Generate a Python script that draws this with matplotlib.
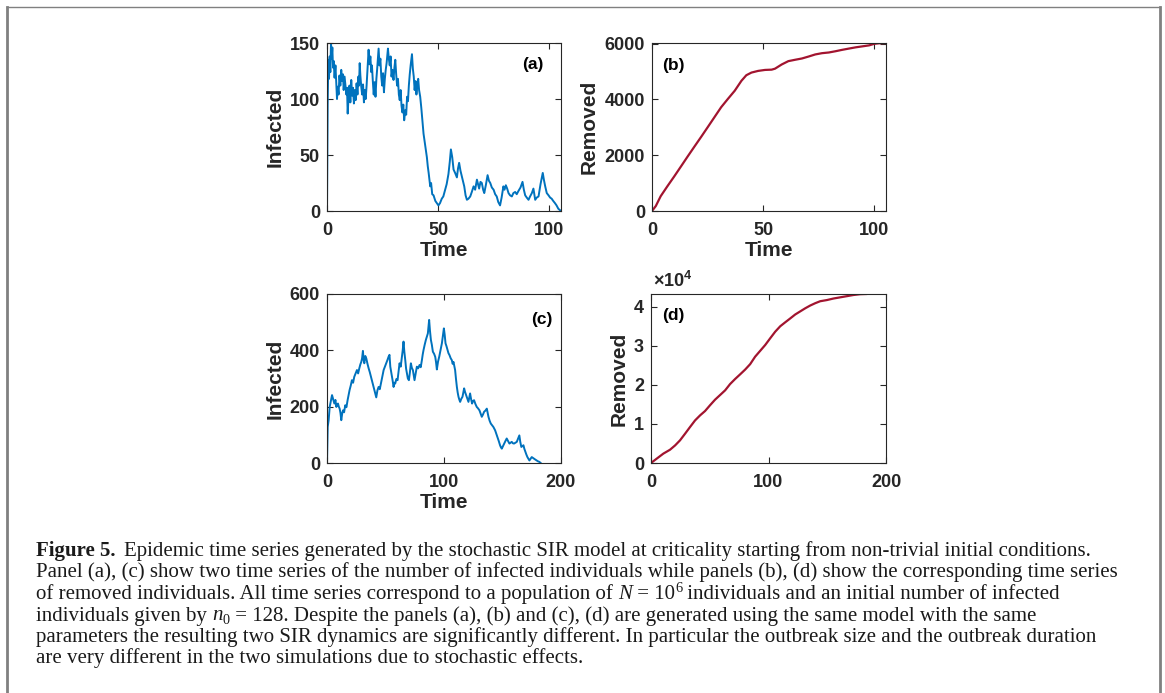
import numpy as np
import matplotlib
matplotlib.use('Agg')
import matplotlib.pyplot as plt
from matplotlib.lines import Line2D
from matplotlib.ticker import FuncFormatter

plt.rcParams['font.family'] = ['Liberation Sans', 'DejaVu Sans']
plt.rcParams['axes.labelweight'] = 'bold'
plt.rcParams['mathtext.fontset'] = 'custom'
plt.rcParams['mathtext.rm'] = 'Liberation Sans:bold'
plt.rcParams['mathtext.it'] = 'Liberation Sans:bold'
plt.rcParams['mathtext.bf'] = 'Liberation Sans:bold'

AX_COL = '#262626'
BLUE = '#0072BD'
RED = '#A2142F'
FRAME = '#808080'
TXT = '#1a1a1a'

# (a) infected, first run
t_a = [0, 0.3, 0.6, 0.9, 1.2, 1.5, 1.8, 2.1, 2.4, 2.7,
       3.0, 3.4, 3.8, 4.2, 4.5, 4.8, 5.2, 5.6, 6.0, 6.4,
       6.8, 7.2, 7.5, 7.9, 8.3, 8.7, 9.0, 9.3, 9.7, 10.1,
       10.5, 10.9, 11.3, 11.7, 12.1, 12.5, 12.9, 13.3, 13.7, 14.1,
       14.4, 14.7, 15.0, 15.4, 15.8, 16.2, 16.6, 17.0, 17.4, 17.8,
       18.2, 18.7, 19.1, 19.5, 19.9, 20.2, 20.6, 21.0, 21.4, 21.8,
       22.2, 22.6, 23.2, 23.6, 24.0, 24.4, 24.8, 25.2, 25.6, 26.0,
       26.4, 26.8, 27.4, 27.8, 28.2, 28.6, 29.0, 29.4, 29.9, 30.3,
       30.7, 31.1, 31.5, 31.9, 32.3, 32.7, 33.1, 33.5, 33.9, 34.3,
       34.7, 35.2, 35.6, 36.0, 36.4, 36.8, 37.2, 37.6, 38.2, 38.6,
       39.0, 39.4, 39.8, 40.2, 40.6, 41.0, 41.4, 41.9, 42.4, 42.9,
       43.4, 43.9, 44.4, 44.9, 45.3, 45.7, 46.1, 46.4, 46.8, 47.3,
       47.9, 48.7, 49.4, 50.1, 50.8, 51.6, 52.3, 53.1, 53.8, 54.6,
       55.2, 55.7, 56.3, 56.9, 57.6, 58.4, 58.9, 59.4, 60.0, 60.6,
       61.2, 61.7, 62.3, 62.9, 63.6, 64.4, 65.1, 65.9, 66.6, 67.4,
       67.9, 68.4, 69.0, 69.6, 70.2, 70.7, 71.4, 72.2, 72.8, 73.4,
       74.1, 74.9, 75.6, 76.3, 77.0, 77.8, 78.5, 79.3, 79.8, 80.4,
       81.0, 81.6, 82.3, 83.1, 83.8, 84.6, 85.3, 86.1, 87.0, 87.9,
       88.5, 89.1, 89.8, 90.6, 91.3, 92.1, 92.8, 93.6, 94.3, 95.1,
       96.0, 97.0, 97.5, 98.1, 98.8, 99.6, 100.3, 101.0, 101.7, 102.5,
       103.2, 104.0, 104.6, 105.2]
infected_a = [0, 95, 135, 118, 138, 124, 150, 136, 146, 128,
              134, 119, 130, 112, 100, 111, 104, 121, 112, 126,
              116, 122, 108, 120, 112, 104, 110, 87, 102, 112,
              97, 117, 103, 110, 96, 108, 99, 114, 104, 120,
              112, 132, 121, 111, 104, 113, 97, 108, 100, 112,
              126, 144, 131, 138, 124, 130, 116, 104, 115, 102,
              118, 128, 145, 130, 136, 120, 112, 123, 106, 118,
              126, 132, 145, 136, 130, 138, 120, 126, 117, 128,
              135, 122, 112, 118, 104, 99, 108, 94, 88, 95,
              81, 90, 86, 102, 98, 112, 122, 130, 140, 127,
              120, 108, 116, 104, 112, 118, 108, 102, 92, 80,
              69, 62, 55, 48, 40, 34, 27, 22, 25, 15,
              14, 9, 7, 5, 7, 11, 13, 19, 24, 33,
              44, 55, 48, 37, 34, 30, 38, 43, 36, 31,
              26, 22, 14, 10, 11, 13, 17, 22, 19, 28,
              24, 20, 26, 25, 19, 16, 23, 32, 27, 25,
              21, 19, 15, 13, 8, 5, 12, 22, 19, 23,
              20, 16, 14, 13, 16, 17, 15, 18, 21, 26,
              19, 14, 12, 10, 13, 16, 20, 10, 12, 13,
              24, 34, 28, 22, 16, 14, 12, 11, 9, 7,
              5, 2, 1, 0]

# (b) removed, first run
t_b = [0, 1.7, 3.9, 6.9, 10.0, 13.0, 16.0, 19.0, 22.1, 25.1,
       28.1, 31.1, 34.1, 37.2, 40.2, 42.4, 44.7, 47.7, 50.8, 53.8,
       55.3, 58.3, 61.3, 64.4, 67.4, 70.4, 73.4, 76.4, 79.5, 82.5,
       85.5, 88.5, 91.6, 94.6, 97.6, 99.9, 102.1, 105.2]
removed_b = [0, 177, 530, 885, 1240, 1594, 1950, 2300, 2657, 3010,
             3365, 3720, 4015, 4310, 4665, 4865, 4960, 5020, 5055, 5065,
             5100, 5250, 5370, 5420, 5465, 5535, 5610, 5655, 5680, 5725,
             5775, 5820, 5865, 5900, 5935, 5990, 6010, 6020]

# (c) infected, second run
t_c = [0.0, 0.6, 1.4, 2.3, 3.4, 4.3, 5.1, 6.3, 7.2, 8.0,
       8.7, 9.4, 10.1, 10.8, 11.5, 12.2, 13.0, 13.7, 14.6, 15.6,
       16.6, 17.6, 18.4, 19.3, 20.3, 21.3, 22.3, 23.3, 24.4, 25.6,
       26.6, 27.6, 28.5, 29.3, 30.0, 30.7, 31.3, 31.9, 32.7, 33.6,
       34.6, 35.6, 36.6, 37.6, 38.7, 39.8, 40.9, 42.1, 43.1, 44.1,
       45.1, 46.1, 47.2, 48.4, 49.5, 50.6, 51.6, 52.6, 53.4, 54.1,
       54.8, 55.5, 56.2, 56.9, 57.6, 58.3, 59.3, 60.3, 61.1, 62.0,
       63.0, 64.0, 64.7, 65.4, 66.1, 66.9, 67.6, 68.3, 69.1, 70.0,
       70.8, 71.7, 72.5, 73.4, 74.1, 74.8, 75.8, 76.8, 77.9, 79.1,
       80.1, 81.1, 81.8, 82.5, 83.5, 84.5, 85.3, 86.2, 86.8, 87.3,
       88.0, 88.8, 89.6, 90.5, 91.5, 92.5, 93.2, 93.9, 94.9, 95.9,
       97.0, 98.2, 99.0, 99.9, 100.6, 101.3, 102.1, 103.0, 103.8, 104.7,
       105.7, 106.7, 107.4, 108.1, 108.8, 109.5, 110.2, 111.0, 111.7, 112.4,
       113.1, 113.8, 114.8, 115.8, 116.5, 117.2, 118.0, 118.9, 119.9, 120.9,
       121.6, 122.3, 123.1, 124.0, 124.8, 125.7, 126.8, 128.0, 129.1, 130.3,
       131.3, 132.3, 133.3, 134.3, 135.4, 136.6, 137.3, 138.0, 139.0, 140.0,
       141.1, 142.2, 143.0, 143.7, 144.7, 145.7, 146.8, 147.9, 148.6, 149.4,
       150.4, 151.4, 152.5, 153.6, 154.7, 155.9, 156.9, 157.9, 158.9, 159.9,
       161.0, 162.2, 163.3, 164.4, 165.2, 166.1, 167.0, 167.9, 168.7, 169.6,
       170.4, 171.3, 172.1, 173.0, 174.0, 175.0, 176.0, 177.0, 178.1, 179.2,
       180.3, 181.5, 182.6]
infected_c = [0, 128, 152, 199, 223, 241, 229, 211, 224, 199,
              208, 211, 200, 193, 178, 152, 176, 187, 180, 205,
              198, 223, 240, 259, 275, 294, 285, 306, 318, 330,
              318, 336, 350, 359, 372, 398, 366, 354, 380, 371,
              352, 336, 322, 306, 288, 270, 252, 233, 258, 270,
              262, 282, 305, 330, 342, 354, 365, 377, 384, 342,
              325, 306, 290, 270, 285, 282, 298, 294, 322, 354,
              342, 377, 400, 431, 395, 365, 335, 318, 300, 294,
              320, 354, 338, 330, 312, 294, 318, 342, 336, 348,
              340, 365, 385, 401, 420, 437, 448, 460, 485, 508,
              470, 437, 420, 395, 388, 377, 358, 332, 360, 377,
              400, 425, 450, 478, 455, 425, 415, 401, 390, 383,
              372, 365, 352, 359, 345, 330, 300, 270, 250, 235,
              225, 217, 228, 235, 250, 265, 252, 241, 228, 217,
              232, 247, 228, 211, 220, 223, 210, 199, 194, 187,
              176, 164, 172, 182, 186, 193, 178, 164, 150, 140,
              134, 128, 122, 116, 104, 93, 78, 63, 56, 51,
              60, 69, 78, 87, 78, 69, 72, 75, 70, 69,
              72, 75, 86, 98, 75, 57, 60, 63, 50, 39,
              30, 21, 15, 9, 15, 21, 18, 15, 12, 9,
              6, 4, 0]

# (d) removed, second run
t_d = [0, 4.8, 10.5, 16.2, 20.5, 24.7, 29.0, 33.2, 37.5, 41.8,
       46.0, 50.3, 54.5, 58.8, 63.1, 67.3, 71.6, 75.9, 80.1, 84.4,
       88.6, 92.9, 97.2, 101.4, 105.7, 110.0, 114.2, 118.5, 122.7, 127.0,
       131.3, 135.5, 139.8, 144.0, 149.7, 155.4, 161.1, 166.8, 172.4, 178.1,
       183.0]
removed_d = [0, 1100, 2400, 3400, 4500, 5800, 7500, 9200, 10900, 12200,
             13300, 14800, 16200, 17400, 18600, 20200, 21500, 22700, 23900, 25300,
             27200, 28700, 30200, 31900, 33600, 35000, 36000, 37000, 38000, 38800,
             39600, 40300, 40900, 41400, 41700, 42100, 42400, 42700, 43000, 43200,
             43250]

# caption: each line is a list of (text, style, size factor, raise in px)
caption_lines = [
    [('Epidemic time series generated by the stochastic SIR model at criticality starting from non-trivial initial conditions.', 'normal', 1, 0)],
    [('Panel (a), (c) show two time series of the number of infected individuals while panels (b), (d) show the corresponding time series', 'normal', 1, 0)],
    [('of removed individuals. All time series correspond to a population of ', 'normal', 1, 0),
     ('N', 'italic', 1, 0), (' = 10', 'normal', 1, 0), ('6', 'normal', 0.68, 7),
     (' individuals and an initial number of infected', 'normal', 1, 0)],
    [('individuals given by ', 'normal', 1, 0), ('n', 'italic', 1, 0), ('0', 'normal', 0.68, -3),
     (' = 128. Despite the panels (a), (b) and (c), (d) are generated using the same model with the same', 'normal', 1, 0)],
    [('parameters the resulting two SIR dynamics are significantly different. In particular the outbreak size and the outbreak duration', 'normal', 1, 0)],
    [('are very different in the two simulations due to stochastic effects.', 'normal', 1, 0)],
]

W, H = 1165, 693
fig = plt.figure(figsize=(W / 100, H / 100), dpi=100)


def px_axes(l, t, r, b):
    return fig.add_axes([l / W, 1 - b / H, (r - l) / W, (b - t) / H])


def style(ax, xlim, ylim, xticks, yticks, ylabel, xlabel=True):
    ax.set_xlim(xlim)
    ax.set_ylim(ylim)
    ax.set_xticks(xticks)
    ax.set_yticks(yticks)
    ax.tick_params(direction='in', top=True, right=True, length=4, width=0.8,
                   colors=AX_COL, labelsize=13)
    ax.tick_params(axis='x', pad=8)
    ax.tick_params(axis='y', pad=5)
    for lbl in ax.get_xticklabels() + ax.get_yticklabels():
        lbl.set_fontweight('bold')
    for s in ax.spines.values():
        s.set_color(AX_COL)
        s.set_linewidth(0.8)
    ax.set_ylabel(ylabel, fontsize=15, color=AX_COL, labelpad=4)
    if xlabel:
        ax.set_xlabel('Time', fontsize=15, color=AX_COL, labelpad=1)


def panel_label(ax, x, y, s, ha):
    ax.text(x, y, s, transform=ax.transAxes, ha=ha, va='center',
            fontsize=12.5, fontweight='bold', color='black')


ax_a = px_axes(327, 43, 561, 211)
ax_b = px_axes(652, 43, 886, 211)
ax_c = px_axes(327, 294, 561, 463)
ax_d = px_axes(651, 294, 886, 463)

ax_a.plot(t_a, infected_a, color=BLUE, lw=1.4)
style(ax_a, (0, 105.2), (0, 150), [0, 50, 100], [0, 50, 100, 150], 'Infected')
panel_label(ax_a, 0.925, 0.87, '(a)', 'right')

ax_b.plot(t_b, removed_b, color=RED, lw=1.6)
style(ax_b, (0, 105.2), (0, 6020), [0, 50, 100], [0, 2000, 4000, 6000], 'Removed')
panel_label(ax_b, 0.043, 0.865, '(b)', 'left')

ax_c.plot(t_c, infected_c, color=BLUE, lw=1.4)
style(ax_c, (0, 200), (0, 600), [0, 100, 200], [0, 200, 400, 600], 'Infected')
panel_label(ax_c, 0.965, 0.85, '(c)', 'right')

ax_d.plot(t_d, removed_d, color=RED, lw=1.6)
ax_d.yaxis.set_major_formatter(FuncFormatter(lambda v, p: f'{v / 1e4:g}'))
style(ax_d, (0, 200), (0, 43250), [0, 100, 200], [0, 10000, 20000, 30000, 40000],
      'Removed', xlabel=False)
panel_label(ax_d, 0.047, 0.87, '(d)', 'left')
ax_d.text(0.01, 1.02, r'$\times10^4$', transform=ax_d.transAxes, ha='left', va='bottom',
          fontsize=13, color=AX_COL)

# frame around the figure
fig.add_artist(Line2D([7 / W, 7 / W], [0, 1 - 7 / H], transform=fig.transFigure, color=FRAME, lw=2))
fig.add_artist(Line2D([1160 / W, 1160 / W], [0, 1 - 7 / H], transform=fig.transFigure, color=FRAME, lw=2))
fig.add_artist(Line2D([7 / W, 1160 / W], [1 - 7 / H, 1 - 7 / H], transform=fig.transFigure, color=FRAME, lw=1))

# caption, serif, laid out piece by piece
serif = ['Liberation Serif', 'DejaVu Serif']
r = fig.canvas.get_renderer()
probe = fig.text(0, 0, caption_lines[1][0][0], family=serif, fontsize=10)
size = 10 * 0.99 * (1127 - 36) / probe.get_window_extent(r).width
probe.remove()

base_y = [556, 577.5, 599, 620.5, 642, 663.5]
fig_lbl = fig.text(36 / W, 1 - base_y[0] / H, 'Figure 5.', family=serif, weight='bold',
                   fontsize=size, va='baseline', color=TXT)
for i, pieces in enumerate(caption_lines):
    x = fig_lbl.get_window_extent(r).x1 + 9 if i == 0 else 36
    for s, st, f, dy in pieces:
        t = fig.text(x / W, 1 - (base_y[i] - dy) / H, s, family=serif, style=st,
                     fontsize=size * f, va='baseline', color=TXT)
        x = t.get_window_extent(r).x1

fig.savefig('out.png', dpi=100)
